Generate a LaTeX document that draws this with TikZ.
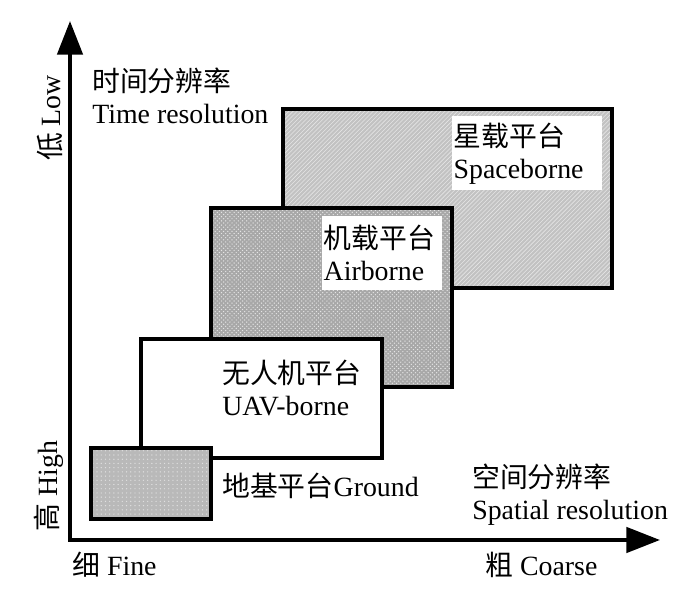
\documentclass[tikz,border=0pt]{standalone}
\usepackage{fontspec}
\setmainfont{Liberation Serif}
\newfontfamily\cjk{Noto Sans CJK SC}
\usetikzlibrary{arrows.meta, patterns}
\tikzstyle{axis} = [line width=2.8pt, arrows={Triangle[length=24pt,width=18pt]-Triangle[length=24pt,width=18pt]}]
\tikzstyle{platform} = [line width=2.2pt, draw=black]
\tikzstyle{spacefill} = [preaction={fill=gray!48}, pattern=north east lines, pattern color=gray!20]
\tikzstyle{airfill} = [preaction={fill=gray!68}, pattern=crosshatch dots, pattern color=gray!20]
\tikzstyle{groundfill} = [preaction={fill=gray!55}, pattern=dots, pattern color=gray!25]
\tikzstyle{lbl} = [align=left, inner sep=0pt, font=\fontsize{19.8}{22.7}\selectfont]
\tikzstyle{whitebox} = [lbl, fill=white, inner sep=1pt, anchor=north west]

\begin{document}
\begin{tikzpicture}[x=0.025cm, y=-0.025cm]
\useasboundingbox (0,0) rectangle (700,590);
\coordinate (origin) at (70,540);
\coordinate (ytip) at (70,21);
\coordinate (xtip) at (660,540);
\draw [platform, spacefill] (283,109) rectangle (612,288);
\draw [platform, airfill] (211,208) rectangle (452,387);
\draw [platform, fill=white] (141,339) rectangle (382,458);
\draw [platform, groundfill] (91,448) rectangle (211,519);
\draw [axis] (ytip) -- (origin) -- (xtip);
\node (space) [whitebox, text width=3.68cm, minimum height=1.85cm] at (452,116) {{\cjk 星载平台}\\Spaceborne};
\node (air) [whitebox, text width=2.93cm, minimum height=1.85cm] at (322,216) {{\cjk 机载平台}\\Airborne};
\node (uav) [lbl, anchor=west] at (222,388) {{\cjk 无人机平台}\\UAV-borne};
\node (ground) [lbl, anchor=west] at (222,486) {{\cjk 地基平台}Ground};
\node (time) [lbl, anchor=west] at (92,96) {{\cjk 时间分辨率}\\Time resolution};
\node (spatial) [lbl, anchor=west] at (472,495) {{\cjk 空间分辨率}\\Spatial resolution};
\node (low) [lbl, rotate=90] at (50,118) {{\cjk 低} Low};
\node (high) [lbl, rotate=90] at (49,486) {{\cjk 高} High};
\node (fine) [lbl, anchor=west] at (72,565) {{\cjk 细} Fine};
\node (coarse) [lbl, anchor=west] at (485,565) {{\cjk 粗} Coarse};
\end{tikzpicture}
\end{document}
